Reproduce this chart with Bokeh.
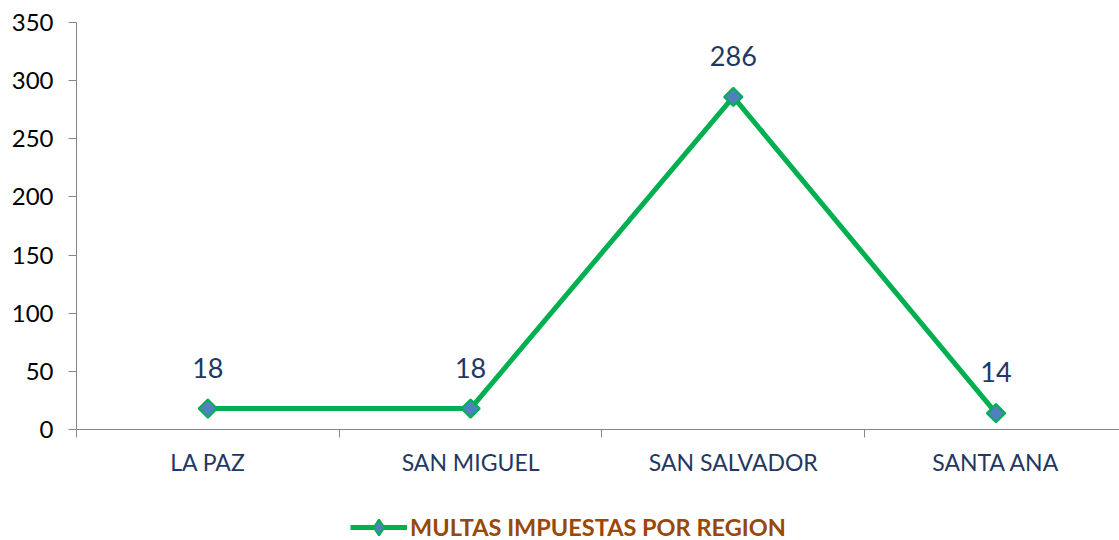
import math
from bokeh.plotting import figure
from bokeh.layouts import column
from bokeh.models import FixedTicker, Range1d, Legend, LegendItem, ColumnDataSource
from bokeh.core.properties import value
from bokeh.embed import file_html
from bokeh.resources import INLINE

categories = ["LA PAZ", "SAN MIGUEL", "SAN SALVADOR", "SANTA ANA"]
multas = [18, 18, 286, 14]
y_ticks = [0, 50, 100, 150, 200, 250, 300, 350]
series_name = "MULTAS IMPUESTAS POR REGION"

xs = [i + 0.5 for i in range(len(categories))]
src = ColumnDataSource(dict(x=xs, y=multas, lbl=[str(v) for v in multas]))

FONT = "Lato"
LINE_COLOR = "#00B050"
MARK_FILL = "#4F81BD"

p = figure(frame_width=1043, frame_height=407, output_backend="svg", toolbar_location=None,
           x_range=Range1d(0, len(categories) - 0.03), y_range=Range1d(0, 350),
           min_border_left=76, min_border_right=0, min_border_top=22, min_border_bottom=71)
p.outline_line_color = None
p.xgrid.grid_line_color = None
p.ygrid.grid_line_color = None

# y axis
p.yaxis.ticker = FixedTicker(ticks=y_ticks)
p.yaxis.axis_line_color = "#868686"
p.yaxis.major_tick_line_color = "#868686"
p.yaxis.major_tick_out = 8
p.yaxis.major_tick_in = 0
p.yaxis.minor_tick_line_color = None
p.yaxis.major_label_text_font = FONT
p.yaxis.major_label_text_font_size = "24px"
p.yaxis.major_label_text_color = "#000000"
p.yaxis.major_label_standoff = 15

# x axis
p.xaxis.ticker = FixedTicker(ticks=xs, minor_ticks=list(range(len(categories) + 1)))
p.xaxis.major_label_overrides = {x: c for x, c in zip(xs, categories)}
p.xaxis.axis_line_color = "#868686"
p.xaxis.major_tick_line_color = None
p.xaxis.minor_tick_line_color = "#868686"
p.xaxis.minor_tick_out = 8
p.xaxis.minor_tick_in = 0
p.xaxis.major_label_text_font = FONT
p.xaxis.major_label_text_font_size = "23px"
p.xaxis.major_label_text_color = "#1F3864"
p.xaxis.major_label_standoff = 10

p.line("x", "y", source=src, line_color=LINE_COLOR, line_width=5)
p.scatter("x", "y", source=src, marker="square", size=13, angle=math.pi / 4,
          fill_color=MARK_FILL, line_color=LINE_COLOR, line_width=2)
p.text("x", "y", text="lbl", source=src, text_font=value(FONT), text_font_size="27px",
       text_color="#1F3864", text_align="center", text_baseline="bottom", y_offset=-31)

# legend strip: a small figure whose renderers share the series data but whose
# y range shows none of it, so only the legend entry is visible
lg = figure(width=1119, height=40, output_backend="svg", toolbar_location=None,
            x_axis_type=None, y_axis_type=None, x_range=p.x_range, y_range=Range1d(-2, -1),
            min_border=0)
lg.outline_line_color = None
lg.xgrid.grid_line_color = None
lg.ygrid.grid_line_color = None
l1 = lg.line("x", "y", source=src, line_color=LINE_COLOR, line_width=5)
l2 = lg.scatter("x", "y", source=src, marker="diamond", size=19,
                fill_color=MARK_FILL, line_color=LINE_COLOR, line_width=2)
legend = Legend(items=[LegendItem(label=series_name, renderers=[l1, l2])],
                orientation="horizontal", location=(274, -7),
                label_text_font=FONT, label_text_font_style="bold",
                label_text_font_size="23.5px", label_text_color="#984807",
                glyph_width=57, glyph_height=40, border_line_color=None,
                background_fill_alpha=0, margin=0, padding=0, label_standoff=3)
lg.add_layout(legend)

layout = column(p, lg, spacing=0)
open("out.html", "w").write(file_html(layout, INLINE))
